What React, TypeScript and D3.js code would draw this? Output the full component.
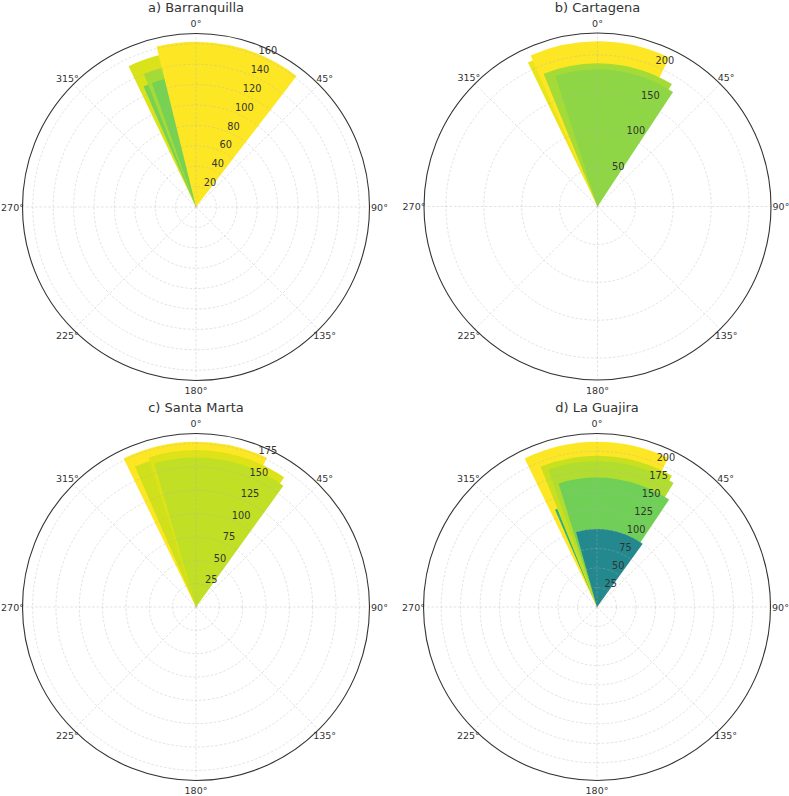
import React from "react";
import * as d3 from "d3";

// ---- data (directions in degrees, clockwise from north) ----
const titles = ["a) Barranquilla", "b) Cartagena", "c) Santa Marta", "d) La Guajira"];

const dirA = [-7.8, -5.7, -22.4, -4.8, 11.85];
const widthA = [35.6, 31.4, 2.2, 29.6, 51.3];
const valA = [153, 140, 129, 129, 162];
const ticksA = [20, 40, 60, 80, 100, 120, 140, 160];

const dirB = [-2.9, 0.9, 4.6, 7.75];
const widthB = [45.8, 49.6, 53.4, 51.3];
const valB = [211, 218, 189, 181];
const ticksB = [50, 100, 150, 200];

const dirC = [-0.3, -6.75, 8.3, 9.8];
const widthC = [51.4, 33.5, 51.8, 52];
const valC = [177, 164, 168, 160];
const ticksC = [25, 50, 75, 100, 125, 150, 175];

const dirD = [-0.25, -22.65, 3.9, 6.1, 8.3, 10.15];
const widthD = [51.5, 1.3, 51.6, 51.2, 51.2, 51.5];
const valD = [212, 136, 194, 187, 166, 100];
const ticksD = [25, 50, 75, 100, 125, 150, 175, 200];

const angleTicks = [0, 45, 90, 135, 180, 225, 270, 315];

const R = 173.5;
const FONT = "DejaVu Sans, sans-serif";
const TEXT = "#333333";

type PanelProps = {
  cx: number;
  cy: number;
  titleY: number;
  title: string;
  dirs: number[];
  widths: number[];
  values: number[];
  ticks: number[];
};

function Panel({ cx, cy, titleY, title, dirs, widths, values, ticks }: PanelProps) {
  const max = d3.max(values) as number;
  const r = d3.scaleLinear().domain([0, max * 1.05]).range([0, R]);
  const color = d3.scaleSequential(d3.interpolateViridis).domain([0, max]);
  const arc = d3.arc<any>();
  const rad = (deg: number) => (deg * Math.PI) / 180;
  const pt = (deg: number, rr: number): [number, number] => [
    rr * Math.sin(rad(deg)),
    -rr * Math.cos(rad(deg)),
  ];

  return (
    <g transform={`translate(${cx},${cy})`}>
      {values.map((v, i) => (
        <path
          key={i}
          d={
            arc({
              innerRadius: 0,
              outerRadius: r(v),
              startAngle: rad(dirs[i] - widths[i] / 2),
              endAngle: rad(dirs[i] + widths[i] / 2),
            }) as string
          }
          fill={color(v)}
        />
      ))}
      {ticks.map((t) => (
        <circle
          key={"c" + t}
          r={r(t)}
          fill="none"
          stroke="#b0b0b0"
          strokeOpacity={0.45}
          strokeWidth={0.8}
          strokeDasharray="2.6,1.8"
        />
      ))}
      {angleTicks.map((a) => {
        const [x, y] = pt(a, R);
        return (
          <line
            key={"s" + a}
            x1={0}
            y1={0}
            x2={x}
            y2={y}
            stroke="#b0b0b0"
            strokeOpacity={0.45}
            strokeWidth={0.8}
            strokeDasharray="2.6,1.8"
          />
        );
      })}
      <circle r={R} fill="none" stroke="#333333" strokeWidth={1.1} />
      {ticks.map((t) => {
        const [x, y] = pt(22.5, r(t));
        return (
          <text
            key={"t" + t}
            x={x}
            y={y - 2}
            fontSize={9.8}
            fontFamily={FONT}
            fill={TEXT}
            textAnchor="start"
          >
            {t}
          </text>
        );
      })}
      {angleTicks.map((a) => {
        const [x, y] = pt(a, a % 90 === 0 ? R + 10 : R + 8.5);
        return (
          <text
            key={"a" + a}
            x={x}
            y={y}
            fontSize={9.5}
            fontFamily={FONT}
            fill={TEXT}
            textAnchor="middle"
            dominantBaseline="central"
          >
            {a + "°"}
          </text>
        );
      })}
      <text
        x={0}
        y={titleY - cy}
        fontSize={13}
        fontFamily={FONT}
        fill={TEXT}
        textAnchor="middle"
      >
        {title}
      </text>
    </g>
  );
}

export default function App() {
  return (
    <svg
      width={789}
      height={796}
      style={{ position: "absolute", left: 0, top: 0, background: "#fff" }}
    >
      <rect width={789} height={796} fill="#fff" />
      <Panel cx={196} cy={207} titleY={12} title={titles[0]} dirs={dirA} widths={widthA} values={valA} ticks={ticksA} />
      <Panel cx={597.5} cy={206.5} titleY={12} title={titles[1]} dirs={dirB} widths={widthB} values={valB} ticks={ticksB} />
      <Panel cx={196} cy={607} titleY={412} title={titles[2]} dirs={dirC} widths={widthC} values={valC} ticks={ticksC} />
      <Panel cx={597} cy={607} titleY={412} title={titles[3]} dirs={dirD} widths={widthD} values={valD} ticks={ticksD} />
    </svg>
  );
}
